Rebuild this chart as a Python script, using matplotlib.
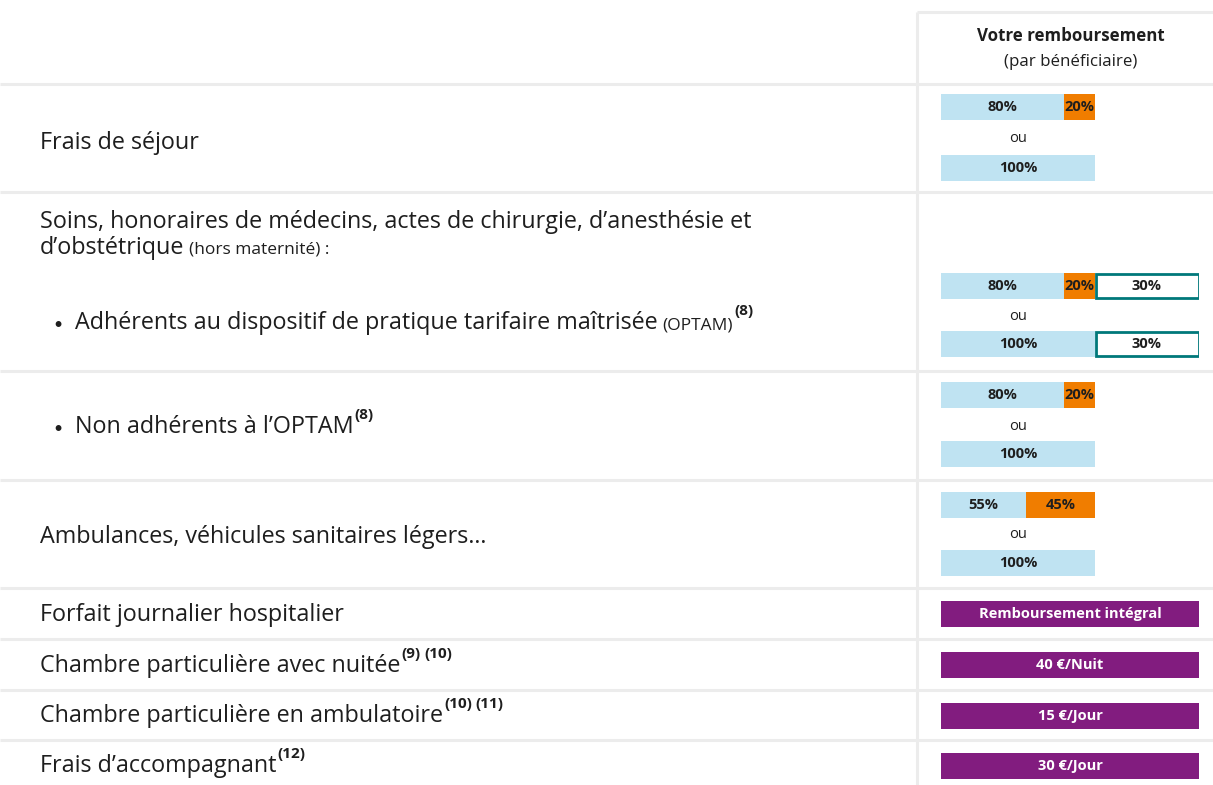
import matplotlib
matplotlib.use("Agg")
import matplotlib.pyplot as plt

# ---------------- data ----------------
header_title = "Votre remboursement"
header_sub = "(par bénéficiaire)"

# stacked bars (one entry per bar, top to bottom)
base_pct = [80, 100, 80, 100, 80, 100, 55, 100]     # light blue part
ticket_pct = [20, 0, 20, 0, 20, 0, 45, 0]           # orange part
extra_pct = [0, 0, 30, 30, 0, 0, 0, 0]              # outlined supplement

flat_labels = ["Remboursement intégral", "40 €/Nuit", "15 €/Jour", "30 €/Jour"]

# ---------------- layout ----------------
W, H = 1213, 785
bar_y = [107, 168, 286, 344, 395, 454, 505, 563]
ou_y = [139, 317, 426, 535]
flat_y = [614, 665, 716, 766]
BAR_H = 26
BOX_END = 100 * (1199 - 941) / (1095 - 941)

C_BLUE = "#bfe3f2"
C_ORANGE = "#f07d00"
C_TEAL = "#00787a"
C_PURPLE = "#821c7f"
C_GRID = "#ececec"
C_TXT = "#1e1e1e"

plt.rcParams['font.family'] = ['Open Sans', 'DejaVu Sans']

fig = plt.figure(figsize=(W / 100, H / 100), dpi=100)
bg = fig.add_axes([0, 0, 1, 1])
bg.set_xlim(0, W)
bg.set_ylim(H, 0)
bg.axis('off')

# grid lines
lw = 2.2
bg.plot([917, 917], [12, H], color=C_GRID, lw=lw, solid_capstyle='butt')
bg.plot([917, W], [12, 12], color=C_GRID, lw=lw, solid_capstyle='butt')
for yy in [84, 192, 371, 480, 588, 639, 690, 740]:
    bg.plot([0, W], [yy, yy], color=C_GRID, lw=lw, solid_capstyle='butt')

# header
bg.text(1071, 36, header_title, ha='center', va='center', fontsize=12.2, fontweight='bold', color=C_TXT)
bg.text(1071, 62, header_sub, ha='center', va='center', fontsize=12.2, color=C_TXT)

renderer = fig.canvas.get_renderer()

MS = 16.8
SMALL = 12.5
SS = 11


def line(x, y, parts):
    """parts: (text, size, weight, rise, gap_after)"""
    for txt, size, weight, rise, gap in parts:
        t = bg.text(x, y - rise, txt, fontsize=size, fontweight=weight,
                    va='baseline', ha='left', color=C_TXT)
        x += t.get_window_extent(renderer).width + gap


def sup(s):
    return (s, SS, 'bold', 14, 4)


def bullet(y):
    bg.text(53, y, "•", fontsize=11.5, family=['Lato', 'DejaVu Sans'],
            va='baseline', ha='left', color=C_TXT)


line(40, 149, [("Frais de séjour", MS, 'normal', 0, 0)])
line(40, 228, [("Soins, honoraires de médecins, actes de chirurgie, d’anesthésie et", MS, 'normal', 0, 0)])
line(40, 254, [("d’obstétrique", MS, 'normal', 0, 5), ("(hors maternité) :", SMALL, 'normal', 0, 0)])
bullet(329)
line(75, 329, [("Adhérents au dispositif de pratique tarifaire maîtrisée", MS, 'normal', 0, 5),
               ("(OPTAM)", SMALL, 'normal', 0, 1), sup("(8)")])
bullet(433)
line(75, 433, [("Non adhérents à l’OPTAM", MS, 'normal', 0, 1), sup("(8)")])
line(40, 543, [("Ambulances, véhicules sanitaires légers…", MS, 'normal', 0, 0)])
line(40, 621, [("Forfait journalier hospitalier", MS, 'normal', 0, 0)])
line(40, 672, [("Chambre particulière avec nuitée", MS, 'normal', 0, 1), sup("(9)"), sup("(10)")])
line(40, 722, [("Chambre particulière en ambulatoire", MS, 'normal', 0, 1), sup("(10)"), sup("(11)")])
line(40, 772, [("Frais d’accompagnant", MS, 'normal', 0, 1), sup("(12)")])

# bar axis: x in percent
ax = fig.add_axes([941 / W, 0, (1199 - 941) / W, 1])
ax.set_xlim(0, BOX_END)
ax.set_ylim(H, 0)
ax.axis('off')

BFS = 10.5
for y, b, t, e in zip(bar_y, base_pct, ticket_pct, extra_pct):
    ax.barh(y, b, height=BAR_H, left=0, color=C_BLUE, edgecolor='none')
    ax.text(b / 2, y, f"{b}%", ha='center', va='center', fontsize=BFS, fontweight='bold', color=C_TXT)
    if t:
        ax.barh(y, t, height=BAR_H, left=b, color=C_ORANGE, edgecolor='none')
        ax.text(b + t / 2, y, f"{t}%", ha='center', va='center', fontsize=BFS, fontweight='bold', color=C_TXT)
    if e:
        start = b + t
        ax.barh(y, BOX_END - start - 0.6, height=BAR_H - 2, left=start + 0.6, color='white',
                edgecolor=C_TEAL, linewidth=2)
        ax.text((start + BOX_END) / 2, y, f"{e}%", ha='center', va='center', fontsize=BFS,
                fontweight='bold', color=C_TXT)

for y in ou_y:
    ax.text(50, y, "ou", ha='center', va='center', fontsize=10.5, color=C_TXT)

for y, lab in zip(flat_y, flat_labels):
    ax.barh(y, BOX_END, height=BAR_H, left=0, color=C_PURPLE, edgecolor='none')
    ax.text(BOX_END / 2, y, lab, ha='center', va='center', fontsize=BFS, fontweight='bold', color='white')

fig.savefig("out.png", dpi=100)
